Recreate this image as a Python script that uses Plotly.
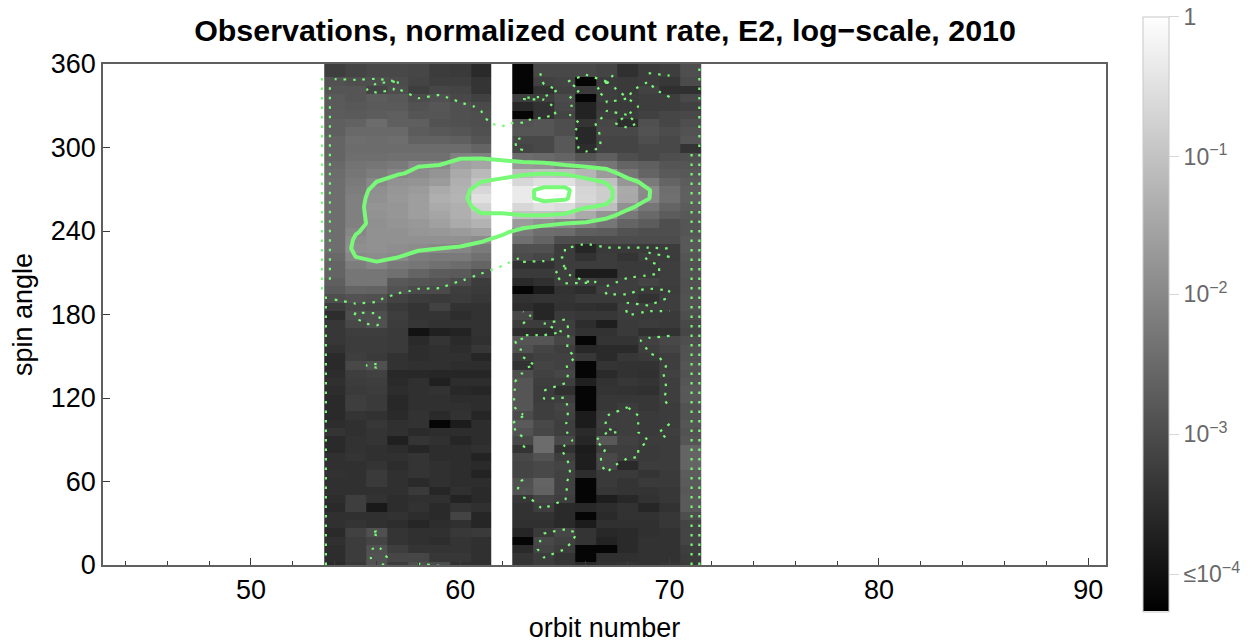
import plotly.graph_objects as go

orbits = [54, 55, 56, 57, 58, 59, 60, 61, 62, 63, 64, 65, 66, 67, 68, 69, 70, 71]
# brightness level (0-255) of each cell, top row first; orbit 62 has no data
levels_left = [
    [62, 68, 72, 72, 70, 60, 58, 42], [82, 78, 78, 76, 68, 62, 62, 52], [85, 85, 68, 78, 62, 70, 68, 52],
    [90, 85, 92, 88, 76, 80, 72, 65], [90, 88, 90, 90, 82, 86, 80, 74], [92, 90, 92, 95, 85, 85, 80, 78],
    [95, 98, 108, 95, 95, 82, 80, 78], [95, 105, 105, 105, 92, 88, 85, 80], [100, 110, 108, 110, 98, 98, 95, 85],
    [100, 108, 108, 108, 108, 108, 108, 100], [100, 110, 110, 112, 112, 112, 128, 128], [105, 115, 118, 122, 135, 136, 160, 165],
    [108, 118, 125, 134, 140, 148, 170, 185], [110, 122, 136, 146, 148, 155, 175, 195], [110, 125, 143, 150, 155, 170, 178, 215],
    [110, 128, 145, 152, 158, 175, 180, 225], [110, 128, 148, 150, 158, 170, 175, 212], [110, 128, 146, 150, 158, 165, 175, 190],
    [110, 128, 144, 148, 152, 160, 170, 178], [110, 134, 145, 145, 150, 152, 155, 160], [110, 140, 145, 145, 145, 145, 145, 140],
    [110, 143, 145, 142, 140, 136, 133, 122], [105, 136, 140, 137, 125, 122, 122, 112], [100, 125, 133, 122, 118, 112, 108, 100],
    [100, 118, 118, 112, 100, 92, 90, 76], [95, 118, 118, 88, 85, 82, 75, 60], [90, 100, 98, 82, 74, 74, 62, 58],
    [78, 82, 80, 66, 60, 58, 60, 55], [60, 72, 70, 58, 52, 66, 50, 50], [45, 78, 78, 62, 52, 52, 45, 50],
    [55, 72, 80, 60, 54, 50, 50, 50], [55, 62, 62, 58, 18, 32, 35, 50], [55, 60, 60, 58, 42, 52, 42, 48],
    [50, 60, 60, 58, 45, 48, 45, 55], [42, 62, 58, 50, 45, 48, 48, 38], [42, 72, 80, 50, 48, 48, 45, 45],
    [45, 62, 65, 40, 40, 38, 38, 38], [48, 60, 62, 42, 48, 32, 45, 45], [45, 58, 60, 45, 48, 50, 40, 38],
    [42, 62, 58, 40, 48, 48, 45, 45], [42, 62, 58, 40, 48, 48, 48, 45], [42, 52, 50, 42, 50, 42, 50, 38],
    [45, 48, 55, 48, 50, 5, 28, 45], [52, 48, 52, 48, 42, 45, 45, 45], [42, 50, 52, 32, 52, 48, 38, 45],
    [42, 50, 48, 45, 38, 45, 45, 48], [48, 52, 48, 48, 52, 45, 45, 35], [48, 48, 52, 45, 52, 48, 45, 42],
    [50, 48, 58, 48, 52, 48, 45, 35], [48, 48, 58, 48, 42, 48, 45, 45], [48, 48, 48, 48, 58, 38, 48, 42],
    [45, 62, 50, 45, 48, 48, 35, 42], [42, 62, 25, 45, 50, 42, 52, 48], [48, 48, 48, 50, 45, 42, 68, 38],
    [48, 52, 48, 45, 38, 45, 48, 38], [42, 65, 80, 52, 48, 48, 56, 58], [48, 60, 68, 52, 48, 45, 52, 48],
    [45, 60, 80, 62, 52, 52, 52, 48], [45, 60, 82, 70, 70, 55, 55, 48], [42, 56, 82, 60, 78, 76, 50, 48],
]
levels_right = [
    [5, 72, 72, 72, 68, 48, 60, 62, 78], [5, 65, 68, 5, 60, 58, 60, 55, 75], [5, 50, 65, 58, 62, 58, 66, 48, 48],
    [62, 62, 75, 5, 62, 60, 62, 62, 72], [40, 50, 72, 35, 58, 58, 62, 62, 65], [5, 50, 68, 35, 62, 60, 65, 70, 72],
    [82, 85, 78, 52, 70, 45, 80, 70, 78], [85, 85, 78, 40, 72, 72, 82, 76, 82], [72, 72, 88, 40, 68, 68, 78, 72, 85],
    [68, 72, 88, 45, 68, 68, 72, 72, 52], [108, 105, 100, 85, 95, 78, 72, 78, 80], [152, 148, 136, 125, 118, 100, 95, 85, 85],
    [190, 195, 192, 180, 155, 118, 100, 90, 88], [215, 225, 225, 205, 192, 150, 122, 100, 92], [234, 255, 255, 213, 205, 170, 138, 110, 95],
    [234, 255, 250, 215, 205, 168, 137, 112, 95], [215, 225, 220, 198, 190, 145, 118, 100, 92], [195, 195, 190, 170, 148, 120, 105, 92, 88],
    [155, 145, 136, 130, 118, 100, 92, 78, 85], [122, 110, 108, 95, 92, 82, 78, 78, 85], [112, 100, 78, 76, 76, 76, 76, 76, 88],
    [80, 80, 60, 38, 58, 58, 58, 60, 88], [75, 70, 60, 50, 60, 52, 62, 60, 85], [50, 50, 60, 60, 60, 58, 58, 62, 82],
    [58, 58, 62, 28, 28, 58, 58, 62, 82], [42, 48, 62, 62, 58, 62, 68, 62, 80], [5, 25, 50, 45, 62, 62, 58, 60, 80],
    [50, 52, 52, 58, 58, 58, 50, 62, 82], [45, 38, 50, 48, 45, 62, 62, 62, 82], [72, 38, 58, 55, 55, 60, 58, 58, 78],
    [60, 60, 62, 45, 30, 58, 60, 58, 72], [45, 45, 62, 50, 50, 58, 48, 50, 70], [85, 85, 70, 5, 52, 52, 65, 72, 78],
    [80, 68, 62, 40, 42, 42, 62, 68, 82], [60, 65, 65, 55, 42, 55, 58, 62, 82], [50, 68, 65, 5, 52, 50, 50, 62, 85],
    [78, 65, 70, 5, 42, 50, 48, 65, 82], [85, 62, 62, 32, 50, 55, 52, 62, 85], [85, 60, 48, 5, 52, 50, 48, 62, 88],
    [85, 60, 62, 5, 55, 55, 55, 62, 88], [85, 62, 68, 5, 55, 60, 55, 60, 82], [75, 62, 65, 28, 60, 62, 58, 60, 82],
    [90, 72, 62, 28, 62, 62, 58, 60, 85], [82, 70, 62, 42, 58, 62, 58, 62, 82], [72, 108, 72, 38, 88, 65, 60, 60, 85],
    [52, 108, 50, 28, 62, 62, 58, 60, 100], [72, 82, 62, 30, 72, 62, 58, 60, 100], [68, 72, 68, 30, 70, 42, 60, 60, 100],
    [68, 72, 65, 45, 58, 58, 52, 58, 92], [80, 100, 65, 5, 58, 52, 58, 58, 90], [82, 98, 65, 5, 55, 52, 52, 55, 88],
    [55, 68, 62, 5, 30, 40, 50, 55, 90], [50, 62, 42, 40, 45, 50, 38, 50, 90], [50, 50, 42, 5, 42, 50, 50, 55, 78],
    [48, 48, 42, 28, 48, 48, 48, 55, 68], [38, 58, 70, 52, 40, 42, 48, 50, 68], [5, 72, 65, 52, 35, 42, 50, 50, 68],
    [42, 68, 60, 5, 5, 42, 50, 50, 62], [52, 60, 52, 5, 48, 48, 50, 50, 60], [52, 60, 52, 42, 50, 52, 50, 52, 58],
]
row_edges = [360] + [350.4 - 6 * k for k in range(58)] + [2.4, 0]
row_centres = [353.4 - 6 * k for k in range(60)]

solid_levels = [136, 195, 245]
dotted_level_left = 76
dotted_level_right = 60
colorbar_ticks = [16, 76, 136, 195, 255]
colorbar_labels = ["≤10<sup>−4</sup>", "10<sup>−3</sup>", "10<sup>−2</sup>", "10<sup>−1</sup>", "1"]

edge_lines = [
    ([53.58, 53.58], [0, 198]),
    ([53.39, 53.39], [198, 350]),
    ([53.77, 53.77], [205, 345]),
    ([71.05, 71.05], [0, 300]),
    ([71.42, 71.42], [0, 360]),
]

GREEN = "rgb(120,250,120)"
DOTS = "2.5px,7px"
grid = [l + [None] + r for l, r in zip(levels_left, levels_right)]

fig = go.Figure()
fig.add_trace(go.Heatmap(
    x=orbits, y=row_edges, z=grid, zmin=0, zmax=255,
    colorscale=[[0, "rgb(0,0,0)"], [1, "rgb(255,255,255)"]],
    hoverinfo="skip",
    colorbar=dict(
        xref="paper", yref="paper", x=(1143 - 103) / 1003, xanchor="left", xpad=0,
        y=(565 - 611.5) / 501, yanchor="bottom", ypad=0,
        len=595, lenmode="pixels", thickness=26, thicknessmode="pixels",
        outlinecolor="rgb(200,200,200)", outlinewidth=1,
        tickmode="array", tickvals=colorbar_ticks, ticktext=colorbar_labels,
        ticks="outside", ticklen=10, tickcolor="rgb(215,215,215)", tickwidth=1,
        tickfont=dict(family="Liberation Sans", size=23, color="rgb(105,105,105)"),
    ),
))


def contour(xs, zs, level, dash, width):
    fig.add_trace(go.Contour(
        x=xs, y=row_centres, z=zs, connectgaps=True, showscale=False, hoverinfo="skip",
        contours=dict(coloring="none", start=level, end=level, size=1, showlabels=False),
        line=dict(color=GREEN, width=width, dash=dash, smoothing=0),
    ))


contour(orbits[:10], [row[:10] for row in grid], dotted_level_left, DOTS, 2.2)
contour(orbits[9:17], [row[9:17] for row in grid], dotted_level_right, DOTS, 2.2)
for lev in solid_levels:
    contour(orbits[:-1], [row[:-1] for row in grid], lev, "solid", 4)
for xs, ys in edge_lines:
    fig.add_trace(go.Scatter(x=xs, y=ys, mode="lines", hoverinfo="skip", showlegend=False,
                             line=dict(color=GREEN, width=2.2, dash=DOTS)))

axis_style = dict(
    showgrid=False, zeroline=False, showline=True, linecolor="rgb(95,95,95)", linewidth=1.5,
    mirror=True, ticks="inside", tickcolor="rgb(60,60,60)", tickwidth=1.2, ticklen=7,
    tickfont=dict(family="Liberation Sans", size=27, color="black"),
)
fig.update_layout(
    width=1252, height=644, autosize=False, showlegend=False,
    paper_bgcolor="white", plot_bgcolor="white",
    margin=dict(l=103, r=146, t=64, b=79, autoexpand=False),
    title=dict(text="<b>Observations, normalized count rate, E2, log−scale, 2010</b>",
               x=605 / 1252, xanchor="center", xref="container",
               y=1 - 30 / 644, yanchor="middle", yref="container",
               font=dict(family="Liberation Sans", size=30.4, color="black")),
    xaxis=dict(range=[42.93, 90.85], tickvals=[50, 60, 70, 80, 90],
               minor=dict(tickvals=[44, 46, 48, 52, 54, 56, 58, 62, 64, 66, 68, 72, 74, 76, 78, 82, 84, 86, 88],
                          ticks="inside", ticklen=4, tickcolor="rgb(60,60,60)", tickwidth=1),
               title=dict(text="orbit number", standoff=14,
                          font=dict(family="Liberation Sans", size=27, color="black")),
               **axis_style),
    yaxis=dict(range=[0, 360], tickvals=[0, 60, 120, 180, 240, 300, 360],
               title=dict(text="spin angle", standoff=10,
                          font=dict(family="Liberation Sans", size=27, color="black")),
               **axis_style),
)
fig.write_html("out.html", config={"displayModeBar": False},
               post_script="document.body.style.margin='0';document.body.style.overflow='hidden';")
